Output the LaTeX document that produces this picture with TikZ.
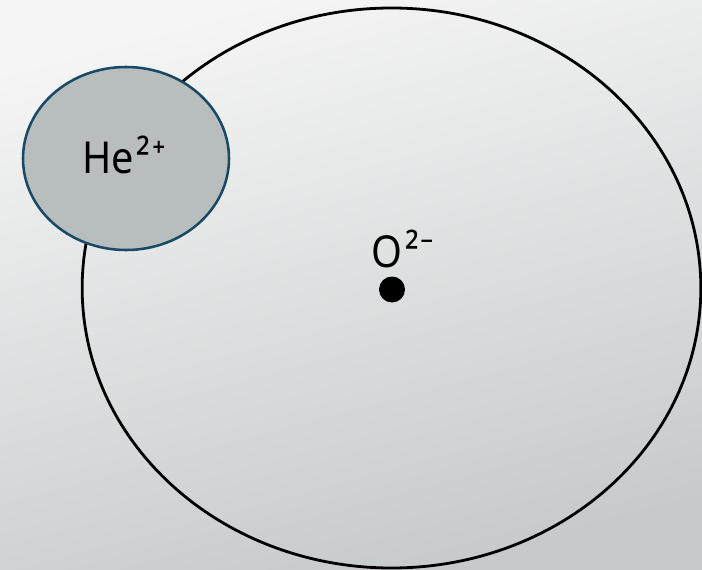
\documentclass[tikz,border=0pt]{standalone}
\usepackage{fontspec}
\setmainfont{Noto Sans}
\usetikzlibrary{shapes.geometric}
\definecolor{bgtop}{RGB}{245,245,245}
\definecolor{bgbot}{RGB}{199,202,203}
\definecolor{hefill}{RGB}{184,189,189}
\definecolor{hestroke}{RGB}{24,74,102}
\tikzset{
  bigell/.style={ellipse, draw=black, line width=2.1pt, minimum width=464pt, minimum height=420pt, inner sep=0pt},
  smallell/.style={ellipse, draw=hestroke, fill=hefill, line width=1.9pt, minimum width=154.5pt, minimum height=137.25pt, inner sep=0pt},
  lbl/.style={font=\fontsize{33}{38}\selectfont, inner sep=0pt, anchor=base},
  dotstyle/.style={circle, fill=black, minimum size=19.5pt, inner sep=0pt}
}
\begin{document}
\begin{tikzpicture}[x=0.75pt,y=-0.75pt]
\useasboundingbox (0,0) rectangle (702,570);
\shade[top color=bgtop, bottom color=bgbot, shading angle=15] (0,0) rectangle (702,570);
\node[bigell] (big) at (391.5,288) {};
\node[smallell] (he) at (126,158.5) {};
\node[lbl] (helbl) at (124,174) {\scalebox{0.9}[1]{He\kern0.07em²\kern0.04em⁺}};
\node[dotstyle] (o) at (392,289.5) {};
\node[lbl] (olbl) at (403,267) {\scalebox{0.9}[1]{O\kern0.07em²\kern0.04em⁻}};
\end{tikzpicture}
\end{document}
